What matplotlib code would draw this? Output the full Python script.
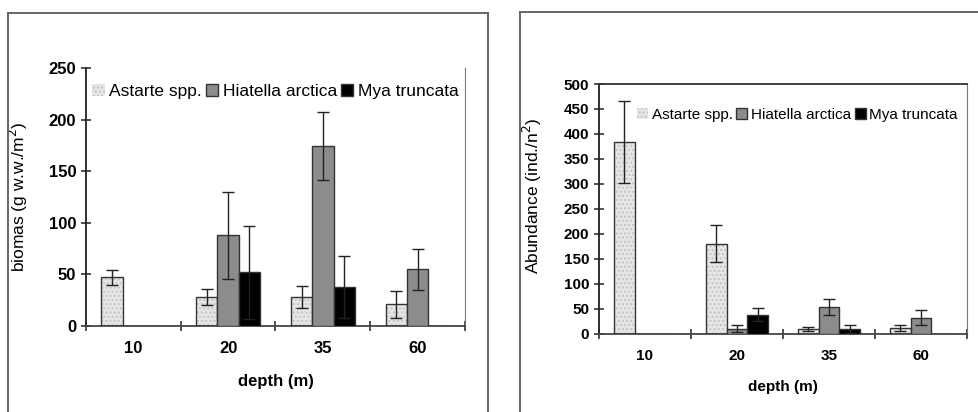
import matplotlib.pyplot as plt
from matplotlib.lines import Line2D
import numpy as np

plt.rcParams['font.family'] = ['Liberation Sans', 'DejaVu Sans']

depths = ['10', '20', '35', '60']
species = ['Astarte spp.', 'Hiatella arctica', 'Mya truncata']

# biomass (g w.w./m2)
bio_astarte = [47, 28, 28, 21]
bio_astarte_err = [7, 8, 11, 13]
bio_hiatella = [0, 88, 174, 55]
bio_hiatella_err = [0, 42, 33, 20]
bio_mya = [0, 52, 38, 0]
bio_mya_err = [0, 45, 30, 0]

# abundance (ind./m2)
ab_astarte = [384, 180, 10, 12]
ab_astarte_err = [82, 37, 4, 6]
ab_hiatella = [0, 10, 53, 32]
ab_hiatella_err = [0, 7, 16, 15]
ab_mya = [0, 38, 10, 0]
ab_mya_err = [0, 13, 8, 0]

faces = ['#e6e6e6', '#8c8c8c', '#000000']

W, H = 979, 412
fig = plt.figure(figsize=(W / 100, H / 100), dpi=100)


def px(x0, y0, x1, y1):
    return [x0 / W, (H - y1) / H, (x1 - x0) / W, (y1 - y0) / H]


def frame(x0, y0, x1):
    kw = dict(color='#666666', lw=1.4, transform=fig.transFigure)
    fig.add_artist(Line2D([x0 / W, x0 / W], [0, 1 - y0 / H], **kw))
    fig.add_artist(Line2D([x0 / W, x1 / W], [1 - y0 / H, 1 - y0 / H], **kw))
    if x1 < W:
        fig.add_artist(Line2D([x1 / W, x1 / W], [0, 1 - y0 / H], **kw))


frame(8, 13, 488)
frame(520, 12, W + 5)


def draw(ax, series, errs, ymax, ystep, ylabel, fs, lfs, top_spine):
    x = np.arange(len(depths))
    w = 0.225
    handles = []
    for i, (vals, err) in enumerate(zip(series, errs)):
        xs = x + (i - 1) * w
        if i == 0:
            b = ax.bar(xs, vals, w, color=faces[i], edgecolor='#c4c4c4', hatch='....', lw=0, zorder=2)
            ax.bar(xs, vals, w, facecolor='none', edgecolor='#333333', lw=1, zorder=3)
        else:
            b = ax.bar(xs, vals, w, color=faces[i], edgecolor='#333333', lw=1, zorder=3)
        handles.append(b)
        vals = np.array(vals)
        m = vals > 0
        ax.errorbar(xs[m], vals[m], yerr=np.array(err)[m], fmt='none', ecolor='#222222',
                    elinewidth=1, capsize=4, capthick=1, zorder=4)
    ax.set_xlim(-0.5, len(depths) - 0.5)
    ax.set_ylim(0, ymax)
    ax.set_yticks(np.arange(0, ymax + 1, ystep))
    ax.set_xticks(np.arange(len(depths) + 1) - 0.5)
    ax.set_xticklabels([])
    ax.set_xticks(x, minor=True)
    ax.set_xticklabels(depths, minor=True, fontsize=fs, fontweight='bold')
    ax.tick_params(axis='x', which='minor', length=0, pad=11)
    ax.tick_params(axis='both', which='major', direction='inout', length=7, width=1.1, color='#222222')
    for t in ax.get_yticklabels():
        t.set_fontsize(fs)
        t.set_fontweight('bold')
    ax.spines['left'].set_color('#222222')
    ax.spines['bottom'].set_color('#444444')
    ax.spines['left'].set_linewidth(1.3)
    ax.spines['bottom'].set_linewidth(1.3)
    ax.spines['right'].set_color('#777777')
    ax.spines['top'].set_visible(top_spine)
    ax.spines['top'].set_color('#333333')
    ax.spines['top'].set_linewidth(1.3)
    ax.set_xlabel('depth (m)', fontsize=fs, fontweight='bold')
    ax.set_ylabel(ylabel, fontsize=12.5, va='center')
    ax.legend(handles, species, ncol=3, frameon=False, fontsize=lfs,
              handlelength=0.7, handleheight=0.7, handletextpad=0.25,
              columnspacing=0.25, borderaxespad=0.2, loc='upper right')
    return ax


ax1 = fig.add_axes(px(86, 68, 465, 326))
draw(ax1, [bio_astarte, bio_hiatella, bio_mya], [bio_astarte_err, bio_hiatella_err, bio_mya_err],
     250, 50, 'biomas (g w.w./m$^2$)', 12, 12.5, False)
ax1.xaxis.set_label_coords(0.5, -0.185)
ax1.yaxis.set_label_coords(-0.177, 0.5)
ax1.get_legend().set_bbox_to_anchor((1.01, 0.98))

ax2 = fig.add_axes(px(599, 84, 967, 333.5))
draw(ax2, [ab_astarte, ab_hiatella, ab_mya], [ab_astarte_err, ab_hiatella_err, ab_mya_err],
     500, 50, 'Abundance (ind./n$^2$)', 11, 11, True)
ax2.xaxis.set_label_coords(0.5, -0.185)
ax2.yaxis.set_label_coords(-0.182, 0.55)
ax2.get_legend().set_bbox_to_anchor((1.0, 0.94))

fig.savefig('out.png', dpi=100)
